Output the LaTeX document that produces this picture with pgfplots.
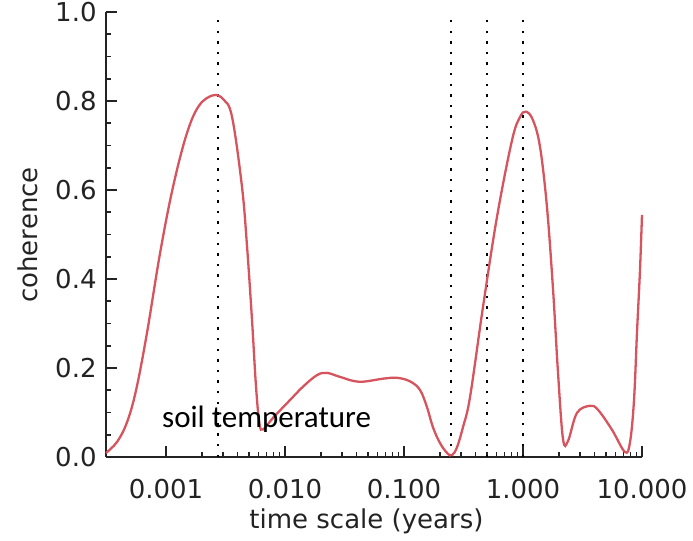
\documentclass[border=0pt]{standalone}
\usepackage{fontspec}
\setmainfont{DejaVu Sans}
\newfontfamily\calibri{Carlito}
\usepackage{pgfplots}
\pgfplotsset{compat=1.18}
\definecolor{curvered}{RGB}{214,84,94}
\definecolor{axisgray}{RGB}{35,35,35}
\begin{document}
\begin{tikzpicture}
\path[use as bounding box] (-53pt,-42pt) rectangle (293.5pt,228.5pt);
\begin{axis}[
  at={(0pt,0pt)}, anchor=south west,
  scale only axis, width=268pt, height=222.5pt,
  xmode=log, xmin=3.13e-4, xmax=10,
  ymin=0, ymax=1,
  axis x line=bottom, axis y line=left,
  axis line style={-, line width=0.8pt, axisgray},
  tick style={line width=0.8pt, axisgray},
  tick align=inside,
  major tick length=5.5pt, minor tick length=2.6pt,
  xtick={0.001,0.01,0.1,1,10},
  xticklabels={0.001,0.010,0.100,1.000,10.000},
  ytick={0,0.2,0.4,0.6,0.8,1.0},
  yticklabels={0.0,0.2,0.4,0.6,0.8,1.0},
  minor ytick={0.05,0.1,0.15,0.25,0.3,0.35,0.45,0.5,0.55,0.65,0.7,0.75,0.85,0.9,0.95},
  tick label style={font=\fontsize{13}{15}\selectfont, text=axisgray},
  xticklabel style={anchor=north, inner sep=0pt, yshift=-11pt},
  yticklabel style={anchor=east, inner sep=0pt, xshift=-4.5pt},
  clip=false,
]
\addplot[black, line width=0.9pt, dash pattern=on 1.2pt off 4.1pt] coordinates {(0.00274,0) (0.00274,1)};
\addplot[black, line width=0.9pt, dash pattern=on 1.2pt off 4.1pt] coordinates {(0.25,0) (0.25,1)};
\addplot[black, line width=0.9pt, dash pattern=on 1.2pt off 4.1pt] coordinates {(0.5,0) (0.5,1)};
\addplot[black, line width=0.9pt, dash pattern=on 1.2pt off 4.1pt] coordinates {(1.0,0) (1.0,1)};
\addplot[curvered, line width=1.15pt, smooth, tension=0.6] coordinates {
(3.13e-4,0.009) (3.88e-4,0.034) (4.70e-4,0.078) (5.60e-4,0.150)
(6.92e-4,0.279) (8.91e-4,0.458) (1.145e-3,0.607)
(1.50e-3,0.728) (1.90e-3,0.790) (2.50e-3,0.813)
(3.05e-3,0.803) (3.59e-3,0.764) (4.35e-3,0.607) (4.80e-3,0.472)
(5.28e-3,0.308) (5.70e-3,0.160) (6.10e-3,0.075) (6.55e-3,0.062)
(7.93e-3,0.088) (0.01102,0.128) (0.01416,0.158) (0.01858,0.184) (0.02254,0.189)
(0.0290,0.180) (0.0420,0.169) (0.0666,0.176) (0.0873,0.178)
(0.1122,0.170) (0.136,0.151) (0.156,0.112) (0.175,0.067) (0.201,0.031)
(0.232,0.008) (0.253,0.004) (0.279,0.022) (0.313,0.067) (0.359,0.135)
(0.461,0.337) (0.605,0.540)
(0.809,0.712) (0.944,0.764) (1.06,0.776) (1.213,0.757) (1.39,0.697)
(1.59,0.562) (1.79,0.375) (1.97,0.189) (2.17,0.040) (2.39,0.036)
(2.84,0.099) (3.66,0.115) (4.27,0.106) (5.60,0.061) (7.20,0.011)
(7.93,0.033) (8.57,0.128) (9.08,0.280) (9.62,0.420) (10.0,0.544)
};
\node[anchor=base west, font=\calibri\fontsize{15.5}{18}\selectfont, inner sep=0pt] at (rel axis cs:0.104,0.0674) {soil temperature};
\node[anchor=center, font=\fontsize{13}{15}\selectfont, text=axisgray] at ([yshift=-32pt]rel axis cs:0.486,0) {time scale (years)};
\node[anchor=center, rotate=90, font=\fontsize{13}{15}\selectfont, text=axisgray] at ([xshift=-39pt]rel axis cs:0,0.499) {coherence};
\end{axis}
\end{tikzpicture}
\end{document}
